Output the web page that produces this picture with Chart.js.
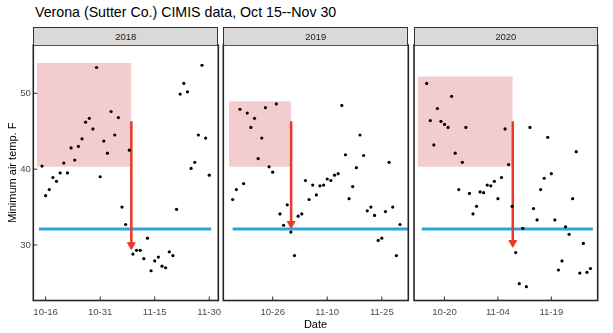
<!DOCTYPE html>
<html>
<head>
<meta charset="utf-8">
<script src="https://cdn.jsdelivr.net/npm/chart.js@4.4.1/dist/chart.umd.min.js"></script>
<style>
  body { margin: 0; background: #fff; }
  #wrap { position: relative; width: 613px; height: 333px; overflow: hidden; font-family: 'Liberation Sans', Arial, sans-serif; }
  .title { position: absolute; left: 35px; top: 4px; font-size: 14.2px; line-height: 16px; color: #000; white-space: nowrap; }
  canvas { position: absolute; top: 35px; }
  .strip { position: absolute; top: 27px; height: 18px; box-sizing: border-box; background: #d9d9d9; border: 1px solid #333; border-bottom: none; font-size: 9.4px; color: #1a1a1a; text-align: center; line-height: 17px; }
  .xlab { position: absolute; top: 318px; left: 0; width: 631px; text-align: center; font-size: 11px; line-height: 13px; color: #000; }
</style>
</head>
<body>
<div id="wrap">
  <div class="title">Verona (Sutter Co.) CIMIS data, Oct 15--Nov 30</div>
  <canvas id="c0" width="240" height="298" style="left:0px"></canvas>
  <canvas id="c1" width="205" height="298" style="left:213px"></canvas>
  <canvas id="c2" width="204" height="298" style="left:404px"></canvas>
  <div class="strip" style="left:33.3px;width:185px">2018</div>
  <div class="strip" style="left:223.3px;width:185px">2019</div>
  <div class="strip" style="left:414px;width:183.7px">2020</div>
  <div class="xlab">Date</div>
</div>
<script>
// daily minimum air temp (F), Oct 15 .. Nov 30 (x = days after Oct 15)
const temps2018 = [40.4, 36.5, 37.3, 38.9, 38.4, 39.5, 40.8, 39.5, 42.8, 41.2, 43.0, 44.0, 46.2, 46.7, 45.3, 53.4,
    39.0, 43.7, 42.1, 47.6, 44.5, 46.8, 35.0, 32.7, 42.5, 28.8, 29.3, 29.3, 28.2, 30.9, 26.6, 27.9,
    28.4, 27.2, 27.0, 29.1, 28.6, 34.7, 49.9, 51.3, 50.2, 40.1, 40.9, 44.5, 53.7, 44.1, 39.2];
const temps2019 = [36.0, 37.3, 47.9, 38.1, 47.4, 45.5, 46.7, 41.4, 44.1, 48.1, 40.3, 39.6, 48.6, 34.1, 32.6, 35.3,
    31.7, 28.6, 33.8, 34.1, 38.5, 36.0, 37.9, 36.6, 37.8, 37.9, 38.7, 38.5, 39.2, 39.4, 48.4, 41.9,
    36.1, 37.7, 40.2, 44.5, 41.8, 34.5, 35.0, 33.9, 30.6, 30.9, 34.4, 40.9, 35.0, 28.6, 32.7];
const temps2020 = [51.3, 46.4, 43.2, 48.0, 46.3, 45.9, 45.5, 49.6, 42.1, 37.3, 40.9, 45.5, 36.8, 34.1, 35.1, 37.0,
    36.9, 37.9, 37.8, 38.4, 36.1, 38.9, 45.3, 40.6, 35.1, 29.0, 24.9, 32.2, 24.5, 45.5, 34.8, 33.3,
    37.3, 38.8, 44.2, 39.4, 33.3, 26.7, 27.9, 32.4, 31.4, 36.1, 42.3, 26.3, 30.2, 26.4, 26.9];
const temps = [temps2018, temps2019, temps2020];

const tickDays = [[1, 16, 31, 46], [11, 26, 41], [5, 20, 35]];
const tickLabels = [['10-16', '10-31', '11-15', '11-30'], ['10-26', '11-10', '11-25'], ['10-20', '11-04', '11-19']];
const yTicks = [30, 40, 50];

// warm window (pink box), arrow down to the first frost, freeze line
const warmStart = [-1.45, -1.03, -2.53];
const warmEnd = [24.57, 16.07, 24.18];
const warmTop = [54.0, 48.95, 52.2];
const warmBottom = [40.3, 40.3, 40.3];
const arrowTop = [46.3, 46.3, 46.3];
const arrowEnd = [30.0, 32.8, 30.3];
const freezeTemp = 32.1;
const freezeStart = [-0.84, 0, -1.4];
const freezeEnd = [46.5, 49, 46.67];

const xRange = [[-2.39, 48.48], [-2.58, 48.28], [-3.57, 48.03]];
const pads = [{left: 0, right: 21.7, top: 10, bottom: 0}, {left: 10.3, right: 9.7, top: 10, bottom: 0}, {left: 10, right: 10.3, top: 10, bottom: 0}];

const red = '#e8392d';
const blue = '#2ea4dc';
const pink = '#f3cdcd';

Chart.defaults.font.family = "'Liberation Sans', Arial, sans-serif";

const panelFrame = {
    id: 'panelFrame',
    afterDatasetsDraw(chart) {
        const {ctx, chartArea: a, scales} = chart;
        ctx.save();
        ctx.strokeStyle = '#333';
        ctx.lineWidth = 1;
        scales.x.ticks.forEach(t => {
            const px = scales.x.getPixelForValue(t.value);
            ctx.beginPath();
            ctx.moveTo(px, a.bottom);
            ctx.lineTo(px, a.bottom - 4);
            ctx.stroke();
        });
        if (scales.y.options.display) {
            scales.y.ticks.forEach(t => {
                const py = scales.y.getPixelForValue(t.value);
                ctx.beginPath();
                ctx.moveTo(a.left, py);
                ctx.lineTo(a.left + 4, py);
                ctx.stroke();
            });
        }
        ctx.strokeStyle = '#262626';
        ctx.lineWidth = 1.6;
        ctx.strokeRect(a.left, a.top, a.width, a.height);
        ctx.restore();
    }
};

function makePanel(k) {
    const showY = k === 0;
    return new Chart(document.getElementById('c' + k), {
        type: 'scatter',
        data: {
            datasets: [
                {
                    data: temps[k].map((t, i) => ({x: i, y: t})),
                    pointRadius: 1.6,
                    pointBackgroundColor: '#000',
                    pointBorderWidth: 0,
                    showLine: false
                },
                {
                    type: 'line',
                    data: [{x: warmEnd[k], y: arrowTop[k]}, {x: warmEnd[k], y: arrowEnd[k]}],
                    borderColor: red,
                    borderWidth: 2.5,
                    pointRadius: [0, 4.5],
                    pointStyle: 'triangle',
                    pointRotation: 180,
                    pointBackgroundColor: red,
                    pointBorderColor: red,
                    pointBorderWidth: 1
                },
                {
                    type: 'line',
                    data: [{x: freezeStart[k], y: freezeTemp}, {x: freezeEnd[k], y: freezeTemp}],
                    borderColor: blue,
                    borderWidth: 3,
                    pointRadius: 0,
                    clip: 0
                },
                {
                    type: 'line',
                    data: [{x: warmStart[k], y: warmTop[k]}, {x: warmEnd[k], y: warmTop[k]}],
                    borderColor: 'transparent',
                    borderWidth: 0,
                    pointRadius: 0,
                    fill: {value: warmBottom[k]},
                    backgroundColor: pink
                }
            ]
        },
        options: {
            responsive: false,
            animation: false,
            events: [],
            layout: { padding: pads[k] },
            plugins: {
                legend: { display: false },
                tooltip: { enabled: false }
            },
            scales: {
                x: {
                    type: 'linear',
                    min: xRange[k][0],
                    max: xRange[k][1],
                    grid: { display: false, drawTicks: false },
                    border: { display: false },
                    afterBuildTicks: s => { s.ticks = tickDays[k].map(v => ({value: v})); },
                    afterFit: s => { s.height = 32.5; },
                    ticks: {
                        autoSkip: false,
                        maxRotation: 0,
                        padding: 6,
                        color: '#4d4d4d',
                        font: { size: 9.6 },
                        callback: (v, i) => tickLabels[k][i]
                    }
                },
                y: {
                    display: showY,
                    min: 22.68,
                    max: 56.37,
                    grid: { display: false, drawTicks: false },
                    border: { display: false },
                    afterBuildTicks: s => { s.ticks = yTicks.map(v => ({value: v})); },
                    afterFit: s => { s.width = showY ? 33.3 : 0; },
                    ticks: {
                        padding: 2.5,
                        color: '#4d4d4d',
                        font: { size: 9.6 }
                    },
                    title: {
                        display: true,
                        text: 'Minimum air temp. F',
                        color: '#000',
                        font: { size: 11 },
                        padding: { top: 6.7, bottom: 0 }
                    }
                }
            }
        },
        plugins: [panelFrame]
    });
}

[0, 1, 2].forEach(makePanel);
</script>
</body>
</html>
